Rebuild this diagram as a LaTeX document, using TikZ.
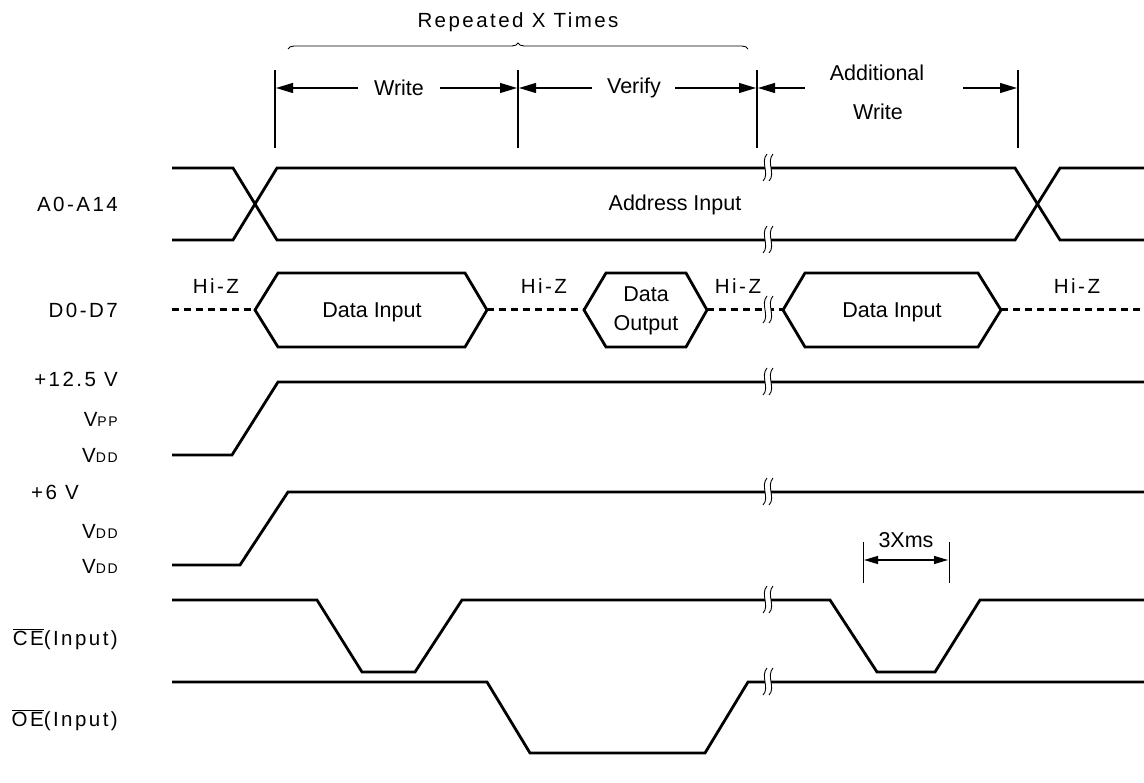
\documentclass[tikz,border=0pt]{standalone}
\usepackage{fontspec}
\setmainfont{Liberation Sans}
\newfontfamily\spc[LetterSpace=12]{Liberation Sans}
\usetikzlibrary{arrows.meta,decorations.pathreplacing}
\newcommand\brkmark[2]{%
  \begin{scope}[shift={(#1,#2)}]
    \fill[white] (-3,-2.4) rectangle (3,2.4);
    \draw[line width=0.9pt] (-1,-14) .. controls (-8,-6) and (2,6) .. (-5,13);
    \draw[line width=0.9pt] (5,-14) .. controls (-2,-6) and (8,6) .. (1,13);
  \end{scope}}
\begin{document}
\begin{tikzpicture}[x=1pt,y=-1pt,
  sig/.style={line width=2.8pt, line join=miter},
  hz/.style={line width=3pt, dash pattern=on 7pt off 5pt},
  thinl/.style={line width=1.1pt},
  arr/.style={line width=1.1pt, -{Triangle[length=17pt,width=10pt]}},
  lbl/.style={font=\fontsize{21.5}{23}\selectfont, inner sep=0pt},
  slbl/.style={font=\spc\fontsize{20.5}{23}\selectfont, inner sep=0pt}]
\useasboundingbox (0,0) rectangle (1144,783);

% header
\node[slbl] (rep) at (518,22) {Repeated X Times};
\draw[line width=0.9pt, decorate, decoration={brace, amplitude=6pt}] (288,49) -- (748,49);
\foreach \x/\n in {275/v1,518/v2,757/v3,1018/v4}{
  \coordinate (\n t) at (\x,70); \coordinate (\n b) at (\x,148);
  \draw[thinl] (\n t) -- (\n b);}
\node[lbl] (wr) at (399,88) {Write};
\node[lbl] (ve) at (634,88) {Verify};
\node[lbl] (ad) at (877,73) {Additional};
\node[lbl] (ad2) at (878,112) {Write};
\coordinate (a1) at (358,88); \coordinate (a1e) at (276,88);
\coordinate (a2) at (440,88); \coordinate (a2e) at (517,88);
\coordinate (a3) at (592,88); \coordinate (a3e) at (519,88);
\coordinate (a4) at (675,88); \coordinate (a4e) at (756,88);
\coordinate (a5) at (805,88); \coordinate (a5e) at (758,88);
\coordinate (a6) at (963,88); \coordinate (a6e) at (1017,88);
\foreach \s/\e in {a1/a1e,a2/a2e,a3/a3e,a4/a4e,a5/a5e,a6/a6e}
  \draw[arr] (\s) -- (\e);

% left labels
\node[slbl, anchor=east] (la) at (118,204) {A0-A14};
\node[slbl, anchor=east] (ld) at (118,310) {D0-D7};
\node[slbl, anchor=east] (lv1) at (118,379) {+12.5 V};
\node[slbl, anchor=east] (lv2) at (118,419) {V{\fontsize{14}{14}\selectfont PP}};
\node[slbl, anchor=east] (lv3) at (118,455) {V{\fontsize{14}{14}\selectfont DD}};
\node[slbl, anchor=west] (lv4) at (31,492) {+6 V};
\node[slbl, anchor=east] (lv5) at (118,531) {V{\fontsize{14}{14}\selectfont DD}};
\node[slbl, anchor=east] (lv6) at (118,566) {V{\fontsize{14}{14}\selectfont DD}};
\node[slbl, anchor=east] (lce) at (118,639) {$\overline{\mbox{CE}}$(Input)};
\node[slbl, anchor=east] (loe) at (118,720) {$\overline{\mbox{OE}}$(Input)};

% address bus
\draw[sig] (172,168) -- (233,168) -- (277,240) -- (1015,240) -- (1060,168) -- (1144,168);
\draw[sig] (172,240) -- (233,240) -- (277,168) -- (1015,168) -- (1060,240) -- (1144,240);
\node[lbl] (addr) at (675,205) {Address Input};
\brkmark{768}{168}\brkmark{768}{240}

% data bus
\draw[hz] (172,310) -- (255,310);
\draw[sig] (255,310) -- (278,273) -- (465,273) -- (487,310) -- (465,347) -- (278,347) -- cycle;
\draw[hz] (487,310) -- (584,310);
\draw[sig] (584,310) -- (606,273) -- (686,273) -- (707,310) -- (686,347) -- (606,347) -- cycle;
\draw[hz] (707,310) -- (783,310);
\draw[sig] (783,310) -- (805,273) -- (978,273) -- (1001,310) -- (978,347) -- (805,347) -- cycle;
\draw[hz] (1001,310) -- (1144,310);
\brkmark{768}{310}
\node[lbl] (di1) at (372,312) {Data Input};
\node[lbl, align=center, font=\fontsize{21.5}{29}\selectfont] (do) at (646,311) {Data\\Output};
\node[lbl] (di2) at (892,312) {Data Input};
\foreach \x/\n in {216/h1,544/h2,738/h3,1077/h4}
  \node[slbl] (\n) at (\x,286) {Hi-Z};

% Vpp
\draw[sig] (172,455) -- (232,455) -- (278,382) -- (1144,382);
\brkmark{768}{382}
% Vdd
\draw[sig] (172,565) -- (240,565) -- (288,492) -- (1144,492);
\brkmark{768}{492}

% 3Xms
\coordinate (m1t) at (863,542); \coordinate (m1b) at (863,583);
\coordinate (m2t) at (949,542); \coordinate (m2b) at (949,583);
\draw[line width=0.9pt] (m1t) -- (m1b);
\draw[line width=0.9pt] (m2t) -- (m2b);
\draw[line width=1.1pt, {Triangle[length=14pt,width=8pt]}-{Triangle[length=14pt,width=8pt]}] (864,560) -- (948,560);
\node[lbl] (ms) at (906,540) {3Xms};

% CE
\draw[sig] (172,600) -- (317,600) -- (362,672) -- (415,672) -- (462,600) -- (830,600) -- (877,672) -- (935,672) -- (980,600) -- (1144,600);
\brkmark{768}{600}
% OE
\draw[sig] (172,682) -- (487,682) -- (530,753) -- (705,753) -- (748,682) -- (1144,682);
\brkmark{768}{682}
\end{tikzpicture}
\end{document}
